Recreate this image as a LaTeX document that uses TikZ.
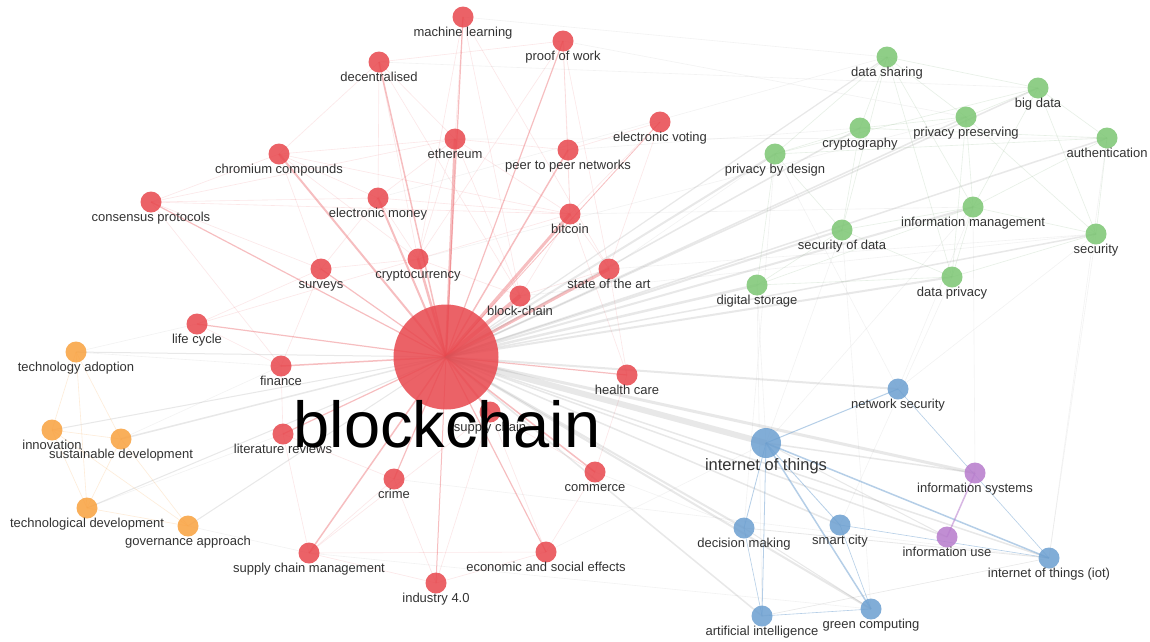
\documentclass[tikz,border=0pt]{standalone}
\usepackage{fontspec}
\setmainfont{Liberation Sans}
\usetikzlibrary{backgrounds}
\definecolor{kwred}{HTML}{E8474D}
\definecolor{kwgreen}{HTML}{7CC673}
\definecolor{kwblue}{HTML}{6C9FD0}
\definecolor{kworange}{HTML}{F9A13E}
\definecolor{kwpurple}{HTML}{B77BCC}
\definecolor{lbltext}{HTML}{333333}

\begin{document}
\begin{tikzpicture}[x=1pt, y=-1pt,
  kw/.style={circle, minimum size=21pt, inner sep=0pt, fill opacity=.85, label distance=0pt},
  lbl/.style={font=\fontsize{13}{15}\selectfont, text=lbltext, text opacity=1, fill opacity=1,
              inner sep=0pt, text height=9pt, text depth=2.5pt},
  hublbl/.style={font=\fontsize{65}{70}\selectfont, text=black, inner sep=0pt},
  redge/.style={kwred, draw opacity=.35},
  rfaint/.style={kwred, draw opacity=.13, line width=.6pt},
  gedge/.style={black!45, draw opacity=.2},
  gfaint/.style={black!40, draw opacity=.12, line width=.6pt},
  grnedge/.style={kwgreen!60!gray, draw opacity=.18, line width=.6pt},
  oedge/.style={kworange, draw opacity=.2, line width=.6pt},
  bedge/.style={kwblue, draw opacity=.5},
]
\useasboundingbox (0,0) rectangle (1150,641);

% hub
\node[kw, fill=kwred, minimum size=105pt] (bc) at (446,357) {};

% blockchain cluster (red)
\foreach \n/\x/\y/\t in {ml/463/17/machine learning, pow/563/41/proof of work,
    decent/379/62/decentralised, evote/660/122/electronic voting, eth/455/139/ethereum,
    p2p/568/150/peer to peer networks, chrom/279/154/chromium compounds,
    emoney/378/198/electronic money, consensus/151/202/consensus protocols,
    btc/570/214/bitcoin, crypto/418/259/cryptocurrency, surveys/321/269/surveys,
    sota/609/269/state of the art, bchain/520/296/block-chain, lifecycle/197/324/life cycle,
    finance/281/366/finance, health/627/375/health care, supply/490/412/supply chain,
    litrev/283/434/literature reviews, crime/394/479/crime, commerce/595/472/commerce,
    econ/546/552/economic and social effects, scm/309/553/supply chain management,
    ind4/436/583/industry 4.0}
  \node[kw, fill=kwred, label={[lbl]below:\t}] (\n) at (\x,\y) {};

% sustainability cluster (orange)
\foreach \n/\x/\y/\t in {techadopt/76/352/technology adoption, innov/52/430/innovation,
    sustdev/121/439/sustainable development, techdev/87/508/technological development,
    govern/188/526/governance approach}
  \node[kw, fill=kworange, label={[lbl]below:\t}] (\n) at (\x,\y) {};

% privacy cluster (green)
\foreach \n/\x/\y/\t in {datashare/887/57/data sharing, bigdata/1038/88/big data,
    privpres/966/117/privacy preserving, cryptog/860/128/cryptography,
    auth/1107/138/authentication, privdesign/775/154/privacy by design,
    infomgmt/973/207/information management, secdata/842/230/security of data,
    security/1096/234/security, dataprivacy/952/277/data privacy,
    digstore/757/285/digital storage}
  \node[kw, fill=kwgreen, label={[lbl]below:\t}] (\n) at (\x,\y) {};

% iot cluster (blue)
\node[kw, fill=kwblue, minimum size=30pt, label distance=-3pt,
      label={[lbl, font=\fontsize{16.5}{18}\selectfont, text height=12pt]below:internet of things}] (iot) at (766,443) {};
\foreach \n/\x/\y/\t in {netsec/898/389/network security, decision/744/528/decision making,
    smartcity/840/525/smart city, iotiot/1049/558/internet of things (iot),
    ai/762/616/artificial intelligence, greencomp/871/609/green computing}
  \node[kw, fill=kwblue, label={[lbl]below:\t}] (\n) at (\x,\y) {};

% information cluster (purple)
\foreach \n/\x/\y/\t in {infosys/975/473/information systems, infouse/947/537/information use}
  \node[kw, fill=kwpurple, label={[lbl]below:\t}] (\n) at (\x,\y) {};

\node[hublbl, anchor=base] (bclbl) at (447,447) {blockchain};

\begin{pgfonlayer}{background}
\fill[white] (0,0) rectangle (1150,641);

% links inside the red cluster
\foreach \a/\b in {ml/eth, ml/crypto, ml/sota, ml/bchain, pow/btc, pow/p2p, pow/sota, pow/crypto,
    pow/decent, decent/emoney, decent/crypto, decent/bchain, decent/eth, decent/chrom,
    chrom/consensus, chrom/emoney, chrom/crypto, chrom/surveys, chrom/eth, chrom/btc,
    consensus/emoney, consensus/surveys, consensus/btc, consensus/eth, emoney/crypto,
    emoney/btc, emoney/eth, emoney/surveys, eth/btc, eth/p2p, eth/crypto, eth/bchain,
    p2p/btc, p2p/evote, evote/btc, evote/sota, btc/bchain, btc/crypto, btc/sota,
    crypto/bchain, crypto/surveys, sota/bchain, sota/health, lifecycle/finance,
    lifecycle/surveys, finance/litrev, finance/surveys, litrev/scm, litrev/crime, crime/ind4,
    crime/scm, scm/econ, scm/ind4, econ/ind4, econ/commerce, commerce/health, supply/scm,
    supply/econ, supply/commerce, supply/ind4, health/btc, consensus/finance, lifecycle/crypto}
  \draw[rfaint] (\a.center) -- (\b.center);

% links from the hub to red keywords
\foreach \n/\w in {ml/1.2, pow/1.2, decent/1.5, evote/.8, eth/2.5, p2p/1.5, chrom/2,
    emoney/2, consensus/1.2, btc/3, crypto/2.5, surveys/1.2, sota/3, bchain/4,
    lifecycle/1.2, finance/1.5, health/1.2, supply/2, litrev/1.2, crime/1.2,
    commerce/1.5, econ/1.2, scm/1.5, ind4/1}
  \draw[redge, line width=\w pt] (bc.center) -- (\n.center);

% links from the hub to the other clusters
\foreach \n/\w in {iot/6, infosys/3, netsec/2, decision/2, smartcity/1.5, greencomp/2,
    iotiot/1.5, infouse/1.5, ai/1.5, privdesign/2, cryptog/1.5, datashare/1.2,
    privpres/1.5, bigdata/1.5, auth/1.5, infomgmt/2, secdata/2, security/1.5,
    dataprivacy/2, digstore/2.5, techadopt/1, innov/1, sustdev/1.5, techdev/1, govern/1}
  \draw[gedge, line width=\w pt] (bc.center) -- (\n.center);

% faint cross-cluster links
\foreach \a/\b in {ml/datashare, decent/bigdata, pow/privpres, emoney/datashare,
    eth/auth, btc/infomgmt, bchain/security, sota/security, sota/privdesign, p2p/cryptog,
    crypto/privpres, netsec/security, netsec/infomgmt, netsec/privdesign, iot/digstore,
    iot/secdata, iot/infomgmt, iotiot/security, iotiot/auth, infosys/infomgmt,
    decision/privdesign, ai/digstore, greencomp/secdata, smartcity/dataprivacy,
    techadopt/lifecycle, sustdev/finance, govern/scm, techdev/litrev, techadopt/finance,
    scm/greencomp, econ/iot, commerce/decision, crime/iotiot}
  \draw[gfaint] (\a.center) -- (\b.center);

% links inside the green cluster
\foreach \a/\b in {datashare/privdesign, datashare/cryptog, datashare/privpres,
    datashare/bigdata, datashare/infomgmt, datashare/secdata, datashare/dataprivacy,
    bigdata/privpres, bigdata/auth, bigdata/infomgmt, bigdata/security, bigdata/privdesign,
    privpres/cryptog, privpres/dataprivacy, privpres/infomgmt, privpres/security,
    cryptog/privdesign, cryptog/secdata, cryptog/auth, auth/security, auth/infomgmt,
    auth/privdesign, privdesign/secdata, privdesign/digstore, infomgmt/secdata,
    infomgmt/dataprivacy, infomgmt/security, infomgmt/digstore, secdata/digstore,
    secdata/dataprivacy, security/dataprivacy, digstore/dataprivacy}
  \draw[grnedge] (\a.center) -- (\b.center);

% links inside the orange cluster
\foreach \a/\b in {techadopt/innov, techadopt/sustdev, techadopt/techdev, innov/sustdev,
    innov/techdev, innov/govern, sustdev/techdev, sustdev/govern, techdev/govern}
  \draw[oedge] (\a.center) -- (\b.center);

% links around internet of things
\foreach \a/\b/\w in {iot/netsec/1, iot/greencomp/1.5, iot/iotiot/1.5, iot/ai/.8,
    iot/decision/.8, iot/smartcity/.8, decision/ai/.6, smartcity/greencomp/.6,
    ai/greencomp/.6, smartcity/iotiot/.6, netsec/iotiot/.6}
  \draw[bedge, line width=\w pt] (\a.center) -- (\b.center);
\foreach \a/\b/\w in {iot/infosys/1.5, iot/infouse/1, decision/iotiot/.8, ai/iotiot/.6,
    decision/greencomp/1}
  \draw[gedge, line width=\w pt] (\a.center) -- (\b.center);
\draw[kwpurple, draw opacity=.55, line width=1.5pt] (infosys.center) -- (infouse.center);
\end{pgfonlayer}
\end{tikzpicture}
\end{document}
